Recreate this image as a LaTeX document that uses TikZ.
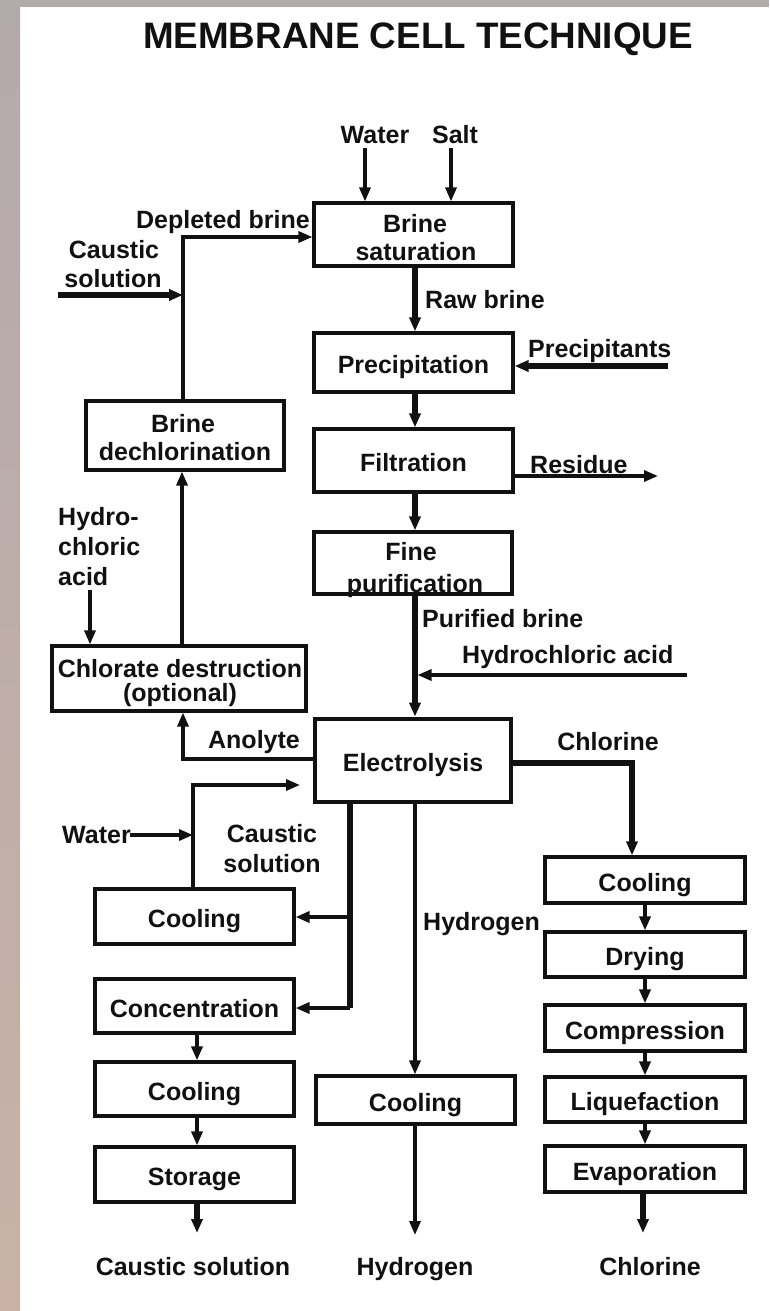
\documentclass[tikz,border=0pt]{standalone}
\usepackage{fontspec}
\setmainfont{Liberation Sans}
\usetikzlibrary{arrows.meta}
\definecolor{stripA}{HTML}{B3AAAC}
\definecolor{stripB}{HTML}{C9B1A6}
\definecolor{ink}{HTML}{111111}
\begin{document}
\begin{tikzpicture}[x=1pt,y=-1pt,
  thinl/.style={line width=3.2pt,draw=ink},
  medl/.style={line width=4.2pt,draw=ink},
  thickl/.style={line width=5.5pt,draw=ink},
  arr/.style={-{Triangle[length=14pt,width=11pt]}},
  box/.style={draw=ink,line width=3.2pt,inner sep=0pt,text=ink,
    font=\fontsize{25}{28}\selectfont\bfseries,text height=22pt,text depth=0pt},
  lbl/.style={inner sep=0pt,text=ink,font=\fontsize{25}{28}\selectfont\bfseries,anchor=base},
]
\useasboundingbox (0,0) rectangle (769,1311);
\fill[white] (0,0) rectangle (769,1311);
\shade[top color=stripA,bottom color=stripB] (0,0) rectangle (20,1311);
\fill[stripA] (20,0) rectangle (769,7);

\node[lbl,font=\fontsize{36.8}{40}\selectfont\bfseries] (title) at (418,49) {MEMBRANE CELL TECHNIQUE};

% main column
\node[box,minimum width=199pt,minimum height=63pt] (sat) at (413.5,234.5) {};
\node[lbl] (satA) at (415,232) {Brine};
\node[lbl] (satB) at (416,260) {saturation};
\node[box,minimum width=199pt,minimum height=59pt] (prec) at (413.5,362.5) {Precipitation};
\node[box,minimum width=199pt,minimum height=63pt] (filt) at (413.5,460.5) {Filtration};
\node[box,minimum width=198pt,minimum height=62pt] (fine) at (413,563) {};
\node[lbl] (fineA) at (411,560) {Fine};
\node[lbl] (fineB) at (415,592) {purification};
\node[box,line width=4.8pt,minimum width=196pt,minimum height=83pt] (elec) at (413,760.5) {Electrolysis};

% left recycle
\node[box,minimum width=198pt,minimum height=69pt] (dechl) at (185,435.5) {};
\node[lbl] (dechlA) at (183,432) {Brine};
\node[lbl] (dechlB) at (185,460) {dechlorination};
\node[box,minimum width=254pt,minimum height=65pt] (chl) at (179,678.5) {};
\node[lbl] (chlA) at (180,677) {Chlorate destruction};
\node[lbl] (chlB) at (180,701) {(optional)};

% caustic column
\node[box,minimum width=199pt,minimum height=55pt] (coolA) at (194.5,916.5) {Cooling};
\node[box,minimum width=199pt,minimum height=54pt] (conc) at (194.5,1006) {Concentration};
\node[box,minimum width=199pt,minimum height=54pt] (coolB) at (194.5,1089) {Cooling};
\node[box,minimum width=199pt,minimum height=55pt] (stor) at (194.5,1174.5) {Storage};

% hydrogen
\node[box,minimum width=199pt,minimum height=48pt] (hcool) at (415.5,1100) {Cooling};

% chlorine column
\node[box,minimum width=200pt,minimum height=46pt] (ccool) at (645,880) {Cooling};
\node[box,minimum width=200pt,minimum height=45pt] (dry) at (645,954.5) {Drying};
\node[box,minimum width=200pt,minimum height=46pt] (comp) at (645,1028) {Compression};
\node[box,minimum width=200pt,minimum height=45pt] (liq) at (645,1099.5) {Liquefaction};
\node[box,minimum width=200pt,minimum height=46pt] (evap) at (645,1169) {Evaporation};

% labels
\node[lbl] (wat) at (375,143) {Water};
\node[lbl] (salt) at (455,143) {Salt};
\node[lbl,anchor=base west] (raw) at (425,308) {Raw brine};
\node[lbl,anchor=base west] (precip) at (528,357) {Precipitants};
\node[lbl,anchor=base west] (resid) at (530,473) {Residue};
\node[lbl,anchor=base west] (pur) at (422,627) {Purified brine};
\node[lbl,anchor=base west] (hclR) at (462,663) {Hydrochloric acid};
\node[lbl] (cl2) at (608,750) {Chlorine};
\node[lbl,anchor=base east] (depl) at (310,228) {Depleted brine};
\node[lbl] (causA) at (114,258) {Caustic};
\node[lbl] (causB) at (113,287) {solution};
\node[lbl,anchor=base west] (hclA) at (58,525) {Hydro-};
\node[lbl,anchor=base west] (hclB) at (58,555) {chloric};
\node[lbl,anchor=base west] (hclC) at (58,585) {acid};
\node[lbl] (anol) at (254,748) {Anolyte};
\node[lbl,anchor=base west] (watL) at (62,843) {Water};
\node[lbl] (causC) at (272,842) {Caustic};
\node[lbl] (causD) at (272,872) {solution};
\node[lbl,anchor=base west] (h2) at (423,930) {Hydrogen};
\node[lbl] (outA) at (193,1275) {Caustic solution};
\node[lbl] (outB) at (415,1275) {Hydrogen};
\node[lbl] (outC) at (650,1275) {Chlorine};

% coordinates
\coordinate (wtop) at (365,148);
\coordinate (stop) at (451,148);
\coordinate (mx) at (415,0);
\coordinate (pp) at (668,366);
\coordinate (rr) at (658,476);
\coordinate (hh) at (687,675);
\coordinate (hhend) at (417.5,675);
\coordinate (cx) at (632,763);
\coordinate (rx) at (645,0);
\coordinate (eo) at (643,1233);
\coordinate (ho) at (415,1235);
\coordinate (kx) at (350,1008);
\coordinate (k1) at (350,917);
\coordinate (lx) at (197,0);
\coordinate (so) at (197,1233);
\coordinate (wl1) at (193,785);
\coordinate (wl2) at (300,785);
\coordinate (wa) at (130,835);
\coordinate (an) at (183,759);
\coordinate (hl) at (90,590);
\coordinate (dx) at (182,0);
\coordinate (db) at (183,237);
\coordinate (cs) at (58,295);

% connectors
\draw[thinl,arr] (wtop) -- (wtop |- sat.north);
\draw[thinl,arr] (stop) -- (stop |- sat.north);
\draw[thickl,arr] (mx |- sat.south) -- (mx |- prec.north);
\draw[thickl,arr] (mx |- prec.south) -- (mx |- filt.north);
\draw[thickl,arr] (mx |- filt.south) -- (mx |- fine.north);
\draw[thickl,arr] (mx |- fine.south) -- (mx |- elec.north);
\draw[thickl,arr] (pp) -- (prec.east |- pp);
\draw[thinl,arr] (filt.east |- rr) -- (rr);
\draw[thinl,arr] (hh) -- (hhend);
\draw[thickl,arr] (elec.east |- cx) -- (cx) -- (cx |- ccool.north);
\draw[medl,arr] (rx |- ccool.south) -- (rx |- dry.north);
\draw[medl,arr] (rx |- dry.south) -- (rx |- comp.north);
\draw[medl,arr] (rx |- comp.south) -- (rx |- liq.north);
\draw[medl,arr] (rx |- liq.south) -- (rx |- evap.north);
\draw[thickl,arr] (evap.south -| eo) -- (eo);
\draw[thinl,arr] (mx |- elec.south) -- (mx |- hcool.north);
\draw[thinl,arr] (hcool.south -| ho) -- (ho);
\draw[thickl] (kx |- elec.south) -- (kx);
\draw[medl,arr] (kx) -- (conc.east |- kx);
\draw[medl,arr] (k1) -- (coolA.east |- k1);
\draw[medl,arr] (lx |- conc.south) -- (lx |- coolB.north);
\draw[medl,arr] (lx |- coolB.south) -- (lx |- stor.north);
\draw[thickl,arr] (lx |- stor.south) -- (so);
\draw[thinl,arr] (coolA.north -| wl1) -- (wl1) -- (wl2);
\draw[thinl,arr] (wa) -- (wa -| wl1);
\draw[thinl,arr] (elec.west |- an) -- (an) -- (an |- chl.south);
\draw[thinl,arr] (hl) -- (hl |- chl.north);
\draw[thinl,arr] (dx |- chl.north) -- (dx |- dechl.south);
\draw[thinl,arr] (dechl.north -| db) -- (db) -- (sat.west |- db);
\draw[thickl,arr] (cs) -- (cs -| db);
\end{tikzpicture}
\end{document}
